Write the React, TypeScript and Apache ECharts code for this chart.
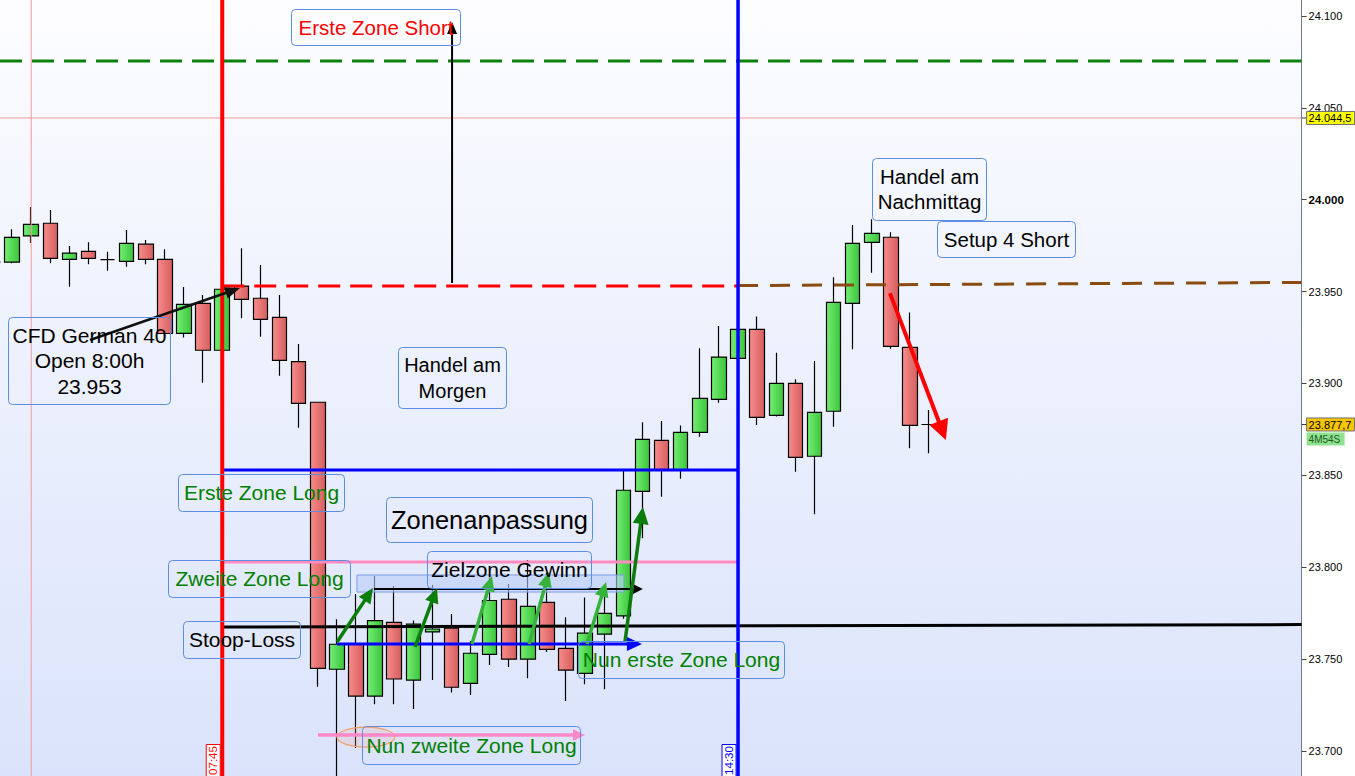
import { useEffect, useRef } from 'react';
import * as echarts from 'echarts';

// 15-minute slots of the CFD German 40 session, 04:45 … 21:45
const slotTimes: string[] = [];
for (let m = 4 * 60 + 45; m <= 21 * 60 + 45; m += 15) {
  slotTimes.push(`${String(Math.floor(m / 60)).padStart(2, '0')}:${String(m % 60).padStart(2, '0')}`);
}

// OHLC of the 15-minute candles from 04:45 to 17:00
const openPrices = [23966, 23966, 23980.3, 23987.2, 23967.6, 23971.9, 23967.4, 23966.5, 23975.8, 23967.6, 23927.3, 23943.6, 23918.1, 23953, 23946.4, 23936, 23911.9, 23889.8, 23744.5, 23758.1, 23729.9, 23770, 23738.6, 23764.8, 23766.8, 23736.8, 23752.6, 23782.6, 23750, 23780.9, 23755.9, 23742.3, 23763.6, 23773.5, 23841.3, 23869.1, 23852.9, 23873.4, 23891.4, 23913.7, 23929.5, 23882.7, 23900.1, 23860.4, 23884.9, 23943.6, 23976.8, 23979.6, 23919.7, 23877.7];
const closePrices = [23966, 23979.5, 23986.6, 23968.1, 23970.9, 23968.1, 23967.4, 23976.3, 23967.6, 23927.2, 23943.1, 23918.1, 23951.3, 23945.8, 23934.9, 23912.6, 23889.2, 23745, 23758.1, 23729.9, 23771, 23739.2, 23769.1, 23766.4, 23734.7, 23753.2, 23781.9, 23750, 23778.7, 23755.3, 23744, 23764.1, 23774.9, 23841.9, 23869.6, 23852.9, 23873.4, 23891.9, 23914.3, 23929.5, 23881.6, 23900.1, 23859.8, 23884.3, 23944.2, 23976.3, 23981.7, 23920.2, 23877.2, 23877.7];
const lowPrices = [23963, 23965.5, 23976.5, 23965.4, 23952.7, 23964.9, 23961.4, 23963.6, 23964.9, 23923.7, 23925, 23900.4, 23917, 23935.5, 23925.5, 23904.2, 23875.9, 23735, 23684, 23701.6, 23725.4, 23725.4, 23722.9, 23738.6, 23731.9, 23730.5, 23746.8, 23745.7, 23739.6, 23753.9, 23727.2, 23736.3, 23733.6, 23772, 23815.8, 23838.4, 23848.2, 23871, 23889.5, 23912.5, 23877.4, 23882, 23852, 23828.8, 23876.5, 23918.6, 23960.3, 23918.9, 23864.7, 23862];
const highPrices = [23969, 23984, 23996, 23994.4, 23974.8, 23976.8, 23971.7, 23983.5, 23978.1, 23973, 23952.5, 23948.2, 23952.5, 23973.6, 23964.5, 23948.2, 23921.5, 23890, 23771.7, 23785.4, 23795.2, 23789.8, 23771, 23790.3, 23774.6, 23759.9, 23794.7, 23790.9, 23803.9, 23796.9, 23772.8, 23783.6, 23787.6, 23853.3, 23878.9, 23879.6, 23877.2, 23919.2, 23931.3, 23931, 23936.4, 23916.8, 23902.3, 23912.2, 23957.8, 23986.3, 23989.4, 23982.3, 23938.7, 23885.6];

// price axis
const priceTicks = [23700, 23750, 23800, 23850, 23900, 23950, 24000, 24050, 24100];
const priceMin = 23686.4;
const priceMax = 24108.7;

// price levels
const shortZoneLevel = 24075.5;
const crosshairPrice = 24044.5;
const crosshairSlot = 2;
const openPrice = 23953;
const afternoonLevel = [23953.3, 23955];
const firstLongZone = 23852.9;
const secondLongZone = 23802.9;
const stopLossLevel = [23767.5, 23768.8];
const lastPrice = 23877.7;
const sessionStartSlot = 12; // 07:45
const sessionEndSlot = 39; // 14:30

// arrows as [slot, price] → [slot, price]
type Arrow = { from: [number, number]; to: [number, number]; color: string; width: number; head: number; headW: number };
const arrows: Arrow[] = [
  { from: [5.08, 23923.7], to: [12.93, 23952.0], color: '#111111', width: 2.5, head: 15, headW: 12 },
  { from: [24.03, 23954.7], to: [24.03, 24096.7], color: '#000000', width: 2, head: 12, headW: 10 },
  { from: [46.95, 23949.2], to: [49.88, 23869.2], color: '#ff0000', width: 4, head: 20, headW: 20 },
  { from: [18.01, 23758.2], to: [33.97, 23758.2], color: '#0000ff', width: 3, head: 15, headW: 14 },
  { from: [19.94, 23788.2], to: [34.02, 23788.2], color: '#000000', width: 2, head: 11, headW: 11 },
  { from: [17.01, 23708.7], to: [30.99, 23708.7], color: '#ff88c8', width: 3.5, head: 12, headW: 12 },
  { from: [18.01, 23759.3], to: [19.89, 23788.7], color: '#0b7d0b', width: 3.5, head: 15, headW: 14 },
  { from: [22.09, 23756.6], to: [23.24, 23788.7], color: '#0b7d0b', width: 3.5, head: 15, headW: 14 },
  { from: [25.07, 23758.2], to: [26.12, 23795.2], color: '#35b23a', width: 3.5, head: 15, headW: 14 },
  { from: [28.06, 23758.2], to: [29.1, 23797.4], color: '#35b23a', width: 3.5, head: 15, headW: 14 },
  { from: [31.09, 23758.2], to: [32.09, 23792.0], color: '#35b23a', width: 3.5, head: 15, headW: 14 },
  { from: [33.08, 23759.3], to: [34.02, 23832.8], color: '#0b7d0b', width: 3.5, head: 17, headW: 16 },
];

// target zone band and marked low
const targetBand = { slots: [19.05, 33.03], prices: [23795.8, 23786.5] };
const markedLow = { slot: 19.52, price: 23707.6 };

// note boxes: left, top, width, height (px on the page), text, colour, font size
type Note = { x: number; y: number; w: number; h: number; text: string; color: string; size: number; lh?: number };
const notes: Note[] = [
  { x: 291, y: 9, w: 169, h: 36, text: 'Erste Zone Short', color: '#ff0000', size: 20.5 },
  { x: 8, y: 317, w: 162, h: 87, text: 'CFD German 40\nOpen 8:00h\n23.953', color: '#000000', size: 21, lh: 25.5 },
  { x: 398, y: 347, w: 108, h: 61, text: 'Handel am\nMorgen', color: '#000000', size: 20, lh: 26 },
  { x: 178, y: 474, w: 166, h: 37, text: 'Erste Zone Long', color: '#008000', size: 21 },
  { x: 386, y: 497, w: 206, h: 45, text: 'Zonenanpassung', color: '#000000', size: 25.5 },
  { x: 427, y: 551, w: 164, h: 37, text: 'Zielzone Gewinn', color: '#000000', size: 21 },
  { x: 168, y: 560, w: 182, h: 37, text: 'Zweite Zone Long', color: '#008000', size: 21 },
  { x: 183, y: 621, w: 117, h: 37, text: 'Stoop-Loss', color: '#000000', size: 21 },
  { x: 578, y: 641, w: 206, h: 37, text: 'Nun erste Zone Long', color: '#008000', size: 21 },
  { x: 362, y: 726, w: 218, h: 38, text: 'Nun zweite Zone Long', color: '#008000', size: 21 },
  { x: 872, y: 158, w: 114, h: 62, text: 'Handel am\nNachmittag', color: '#000000', size: 20.5, lh: 25 },
  { x: 937, y: 221, w: 138, h: 36, text: 'Setup 4 Short', color: '#000000', size: 20.5 },
];

const FONT = '"Liberation Sans", Arial, sans-serif';
// the chart box starts left of the page so that the 04:45 candle is cut at the edge
const SHIFT = 17;
const PAGE_W = 1355;
const PAGE_H = 776;

export default function App() {
  const ref = useRef<HTMLDivElement>(null);

  useEffect(() => {
    document.body.style.margin = '0';
    const chart = echarts.init(ref.current!, null, { renderer: 'svg' });

    const candleData = openPrices.map((o, i) => [o, closePrices[i], lowPrices[i], highPrices[i]]);

    chart.setOption({
      animation: false,
      backgroundColor: '#ffffff',
      grid: {
        left: 0.45,
        right: 53.4,
        top: 0,
        bottom: 0,
        show: true,
        borderWidth: 0,
        backgroundColor: new echarts.graphic.LinearGradient(0, 0, 0, 1, [
          { offset: 0, color: '#fdfdff' },
          { offset: 1, color: '#dae3fb' },
        ]),
      },
      xAxis: { type: 'category', data: slotTimes, boundaryGap: true, show: false },
      yAxis: {
        type: 'value',
        position: 'right',
        min: priceMin,
        max: priceMax,
        splitLine: { show: false },
        axisLine: { show: true, lineStyle: { color: '#6d7b8d', width: 1 } },
        axisTick: { show: true, length: 5, customValues: priceTicks, lineStyle: { color: '#444' } },
        axisLabel: {
          customValues: priceTicks,
          margin: 7,
          color: '#000',
          fontSize: 11,
          fontFamily: FONT,
          formatter: (v: number) => {
            const s = (v / 1000).toFixed(3);
            return v % 1000 === 0 ? `{b|${s}}` : s;
          },
          rich: { b: { fontWeight: 'bold', fontSize: 11.5, color: '#000', fontFamily: FONT } },
        },
      },
      series: [
        {
          type: 'candlestick',
          data: candleData,
          barWidth: 15,
          itemStyle: {
            color: new echarts.graphic.LinearGradient(0, 0, 1, 0, [
              { offset: 0, color: '#74ee74' },
              { offset: 1, color: '#3cc43c' },
            ]),
            color0: new echarts.graphic.LinearGradient(0, 0, 1, 0, [
              { offset: 0, color: '#f78c8c' },
              { offset: 1, color: '#d65e5e' },
            ]),
            borderColor: '#000',
            borderColor0: '#000',
            borderColorDoji: '#000',
            borderWidth: 1.2,
          },
        },
      ],
    });

    // pixel helpers built on the chart's own scales
    const p0 = chart.convertToPixel({ gridIndex: 0 }, [0, priceMin]) as number[];
    const p1 = chart.convertToPixel({ gridIndex: 0 }, [1, priceMin]) as number[];
    const W = p1[0] - p0[0];
    const X = (slot: number) => p0[0] + slot * W;
    const Y = (price: number) => (chart.convertToPixel({ gridIndex: 0 }, [0, price]) as number[])[1];
    const leftEdge = X(-0.5);
    const rightEdge = X(slotTimes.length - 0.5);
    const H = PAGE_H;

    const els: any[] = [];
    const Z = 20;
    const hline = (x1: number, x2: number, y1: number, y2: number, color: string, w: number, dash?: number[]) =>
      els.push({
        type: 'line', z: Z, silent: true,
        shape: { x1, y1, x2, y2 },
        style: { stroke: color, lineWidth: w, lineDash: dash, lineCap: 'butt' },
      });

    // crosshair
    hline(leftEdge, rightEdge, Y(crosshairPrice), Y(crosshairPrice), '#f49a9a', 1);
    hline(X(crosshairSlot), X(crosshairSlot), 0, H, '#f49a9a', 1);

    // price levels
    hline(SHIFT, rightEdge, Y(shortZoneLevel), Y(shortZoneLevel), '#0d800d', 3, [22, 10]);
    hline(X(sessionStartSlot), X(sessionEndSlot), Y(openPrice), Y(openPrice), '#ff0000', 3, [22, 10]);
    hline(X(sessionEndSlot), rightEdge, Y(afternoonLevel[0]), Y(afternoonLevel[1]), '#8b4a12', 3, [20, 12]);
    hline(X(sessionStartSlot), X(sessionEndSlot), Y(firstLongZone), Y(firstLongZone), '#0000ff', 3);
    hline(X(sessionStartSlot), X(sessionEndSlot), Y(secondLongZone), Y(secondLongZone), '#ff8cc0', 3);
    hline(X(sessionStartSlot), rightEdge, Y(stopLossLevel[0]), Y(stopLossLevel[1]), '#000000', 3);

    // session markers
    hline(X(sessionStartSlot), X(sessionStartSlot), 0, H, '#ff0000', 4);
    hline(X(sessionEndSlot), X(sessionEndSlot), 0, H, '#0000ff', 3.5);

    // target band
    els.push({
      type: 'rect', z: Z - 1, silent: true,
      shape: {
        x: X(targetBand.slots[0]), y: Y(targetBand.prices[0]),
        width: X(targetBand.slots[1]) - X(targetBand.slots[0]),
        height: Y(targetBand.prices[1]) - Y(targetBand.prices[0]),
      },
      style: { fill: 'rgba(185,205,248,0.6)', stroke: '#7a9ee8', lineWidth: 1 },
    });

    // marked low
    els.push({
      type: 'ellipse', z: Z, silent: true,
      shape: { cx: X(markedLow.slot), cy: Y(markedLow.price), rx: 29, ry: 10 },
      style: { fill: 'rgba(240,170,150,0.22)', stroke: '#f3a06a', lineWidth: 1.2 },
    });

    // arrows
    arrows.forEach((a) => {
      const x1 = X(a.from[0]), y1 = Y(a.from[1]);
      const x2 = X(a.to[0]), y2 = Y(a.to[1]);
      const dx = x2 - x1, dy = y2 - y1;
      const L = Math.hypot(dx, dy);
      const ux = dx / L, uy = dy / L;
      const bx = x2 - ux * a.head, by = y2 - uy * a.head;
      const px = -uy, py = ux;
      els.push({
        type: 'line', z: Z + 2, silent: true,
        shape: { x1, y1, x2: bx + ux * 2, y2: by + uy * 2 },
        style: { stroke: a.color, lineWidth: a.width },
      });
      els.push({
        type: 'polygon', z: Z + 2, silent: true,
        shape: {
          points: [
            [x2, y2],
            [bx + (px * a.headW) / 2, by + (py * a.headW) / 2],
            [bx - (px * a.headW) / 2, by - (py * a.headW) / 2],
          ],
        },
        style: { fill: a.color },
      });
    });

    // note boxes
    notes.forEach((n) => {
      const nx = n.x + SHIFT;
      els.push({
        type: 'rect', z: Z + 3, silent: true,
        shape: { x: nx + 0.5, y: n.y + 0.5, width: n.w, height: n.h, r: 4 },
        style: { fill: 'none', stroke: '#5b8de3', lineWidth: 1 },
      });
      els.push({
        type: 'text', z: Z + 4, silent: true,
        x: nx + n.w / 2 + 0.5, y: n.y + n.h / 2,
        style: {
          text: n.text, fill: n.color, font: `${n.size}px ${FONT}`,
          align: 'center', verticalAlign: 'middle', lineHeight: n.lh ?? n.size * 1.2,
        },
      });
    });

    // session time tags at the bottom
    const timeTag = (slot: number, label: string, color: string) => {
      const xr = X(slot) - 2;
      els.push({
        type: 'rect', z: Z + 3, silent: true,
        shape: { x: xr - 14, y: 744.5, width: 14, height: 33 },
        style: { fill: '#ffffff', stroke: color, lineWidth: 1 },
      });
      els.push({
        type: 'text', z: Z + 4, silent: true,
        x: xr - 7, y: 760.5, rotation: Math.PI / 2,
        style: { text: label, fill: color, font: `11.5px ${FONT}`, align: 'center', verticalAlign: 'middle' },
      });
    };
    timeTag(sessionStartSlot, slotTimes[sessionStartSlot], '#ff0000');
    timeTag(sessionEndSlot, slotTimes[sessionEndSlot], '#0000ff');

    // price tags on the axis
    const priceTag = (price: number, label: string, fill: string, dy: number, w: number, textColor: string, size: number) => {
      const cy = Y(price) + dy;
      els.push({
        type: 'rect', z: Z + 3, silent: true,
        shape: { x: rightEdge + 5, y: cy - 6.5, width: w, height: 13 },
        style: { fill, stroke: dy === 0 ? '#6f6f6f' : 'none', lineWidth: 1 },
      });
      els.push({
        type: 'text', z: Z + 4, silent: true,
        x: rightEdge + 7, y: cy + 0.5,
        style: { text: label, fill: textColor, font: `${size}px ${FONT}`, align: 'left', verticalAlign: 'middle' },
      });
    };
    const fmt = (v: number) => (v / 1000).toFixed(4).replace(/(\d+)\.(\d{3})(\d)/, '$1.$2,$3');
    priceTag(crosshairPrice, fmt(crosshairPrice), '#ffff00', 0, 48, '#000', 11);
    priceTag(lastPrice, fmt(lastPrice), '#f7c600', 0, 48, '#000', 11);
    priceTag(lastPrice, '4M54S', '#8fe28f', 14.5, 38, '#1d5a1d', 10);
    hline(rightEdge, rightEdge + 5, Y(crosshairPrice), Y(crosshairPrice), '#333', 1);
    hline(rightEdge, rightEdge + 5, Y(lastPrice), Y(lastPrice), '#333', 1);

    chart.setOption({ graphic: { elements: els } });

    return () => chart.dispose();
  }, []);

  return (
    <div style={{ position: 'absolute', left: 0, top: 0, width: PAGE_W, height: PAGE_H, overflow: 'hidden' }}>
      <div ref={ref} style={{ position: 'absolute', left: -SHIFT, top: 0, width: PAGE_W + SHIFT, height: PAGE_H }} />
    </div>
  );
}
